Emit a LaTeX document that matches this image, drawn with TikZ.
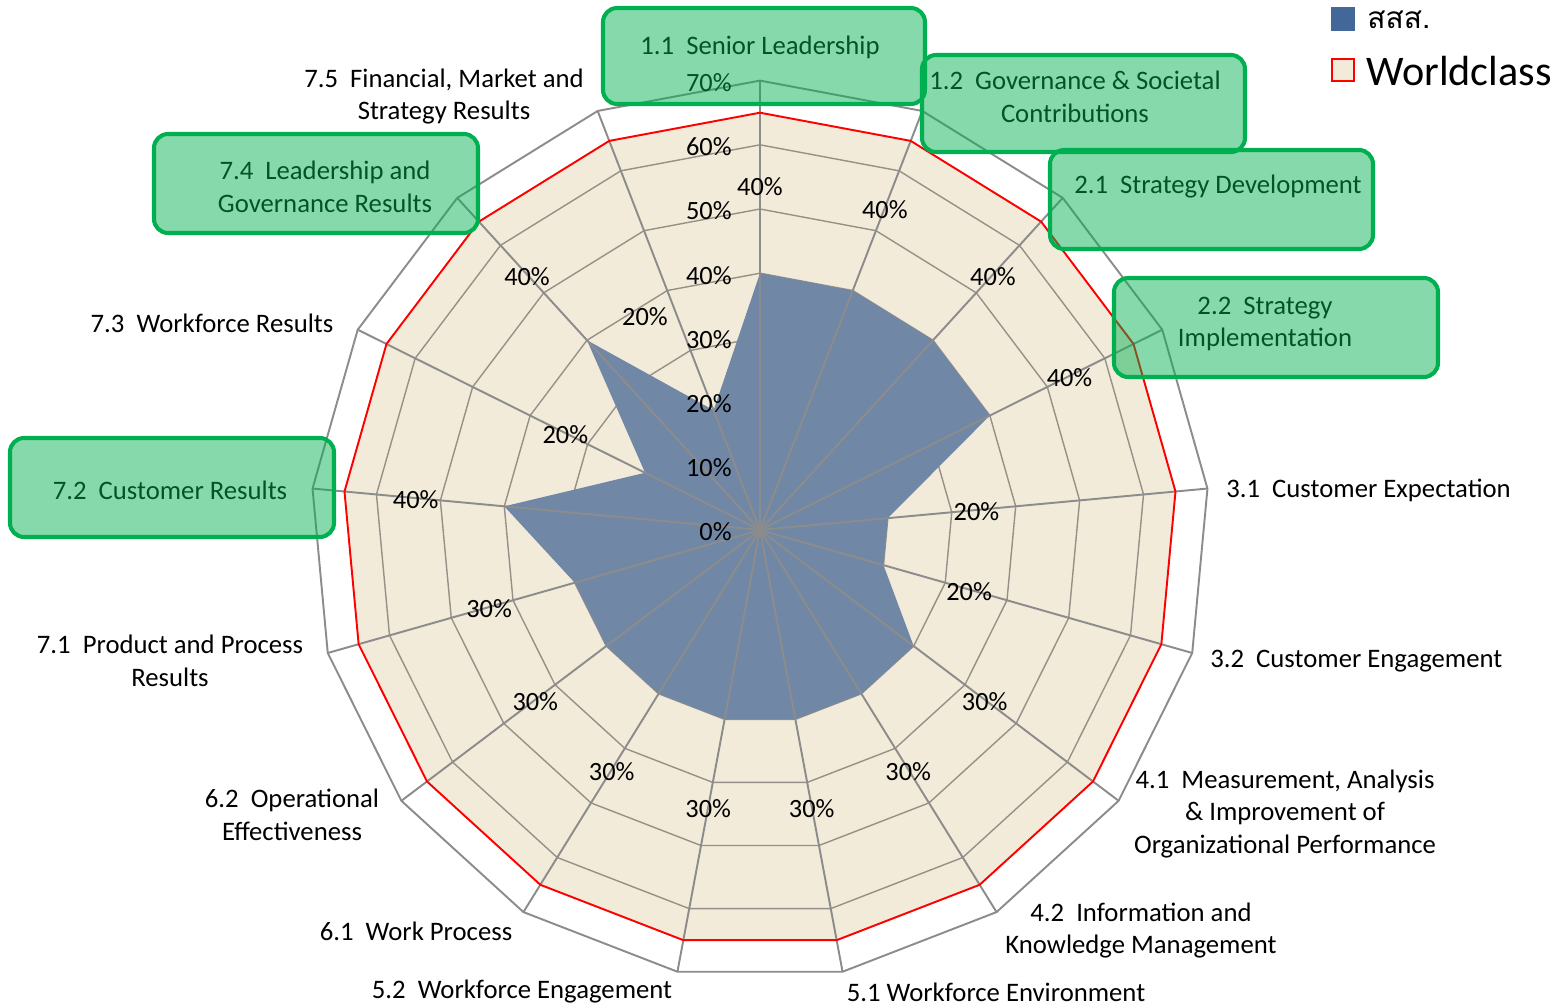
\documentclass[tikz,border=0pt]{standalone}
\usepackage{fontspec}
\setmainfont{Carlito}
\newfontfamily\thaifont[Script=Thai]{Loma}
\usepackage{xcolor}
\usetikzlibrary{calc}
\definecolor{Parchment}{HTML}{F3EBD9}
\definecolor{Slate}{HTML}{7088A6}
\definecolor{SlateKey}{HTML}{44679A}
\definecolor{GridGray}{HTML}{8C8C8C}
\definecolor{RingTan}{HTML}{969088}
\definecolor{Leaf}{HTML}{00B050}
\definecolor{WorldRed}{HTML}{FF0000}

\tikzset{
    axislabel/.style={font=\fontsize{15.2pt}{18.7pt}\selectfont,align=center,inner sep=0pt},
    pct/.style={font=\fontsize{15pt}{18pt}\selectfont,inner sep=0pt},
    hilite/.style={draw=Leaf,line width=2.3pt,fill=Leaf,fill opacity=0.48,rounded corners=8pt},
}

\begin{document}
\begin{tikzpicture}[x=0.02cm,y=0.02cm]
    \useasboundingbox (-760,-475) rectangle (806,530);
    \coordinate (O) at (0,0);

    \fill[Parchment] (90:417.3) \foreach \k in {1,...,16}{ -- ({90-\k*360/17}:417.3)} -- cycle;
    \foreach \r in {1,...,6}
        \draw[RingTan,line width=0.8pt] (90:{\r*64.2}) \foreach \k in {1,...,16}{ -- ({90-\k*360/17}:{\r*64.2})} -- cycle;

    \fill[Slate] (90:256.8) \foreach \v [count=\k] in {4,4,4,2,2,3,3,3,3,3,3,3,4,2,4,2}{ -- ({90-\k*360/17}:{\v*64.2})} -- cycle;

    \foreach \k in {0,...,16}
        \draw[GridGray,line width=1.1pt] (O) -- ({90-\k*360/17}:449.4);
    \draw[WorldRed,line width=1.1pt] (90:417.3) \foreach \k in {1,...,16}{ -- ({90-\k*360/17}:417.3)} -- cycle;
    \draw[GridGray,line width=1.1pt] (90:449.4) \foreach \k in {1,...,16}{ -- ({90-\k*360/17}:449.4)} -- cycle;

    \foreach \t/\txt in {0/0,1/10,2/20,3/30,4/40,5/50,6/60,7/70}
        \node[pct,anchor=east] (tick\t) at (-28,{\t*64.2-2}) {\txt\%};

    \foreach \v [count=\k from 0] in {4,4,4,4,2,2,3,3,3,3,3,3,3,4,2,4}
        \node[pct] (val\k) at ($({90-\k*360/17}:{\v*64.2+89})+(0,-2)$) {\v0\%};
    \node[pct] (val16) at (-115,213) {20\%};

    \node[axislabel] (cat11) at (0,483) {1.1\ \ Senior Leadership};
    \node[axislabel] (cat12) at (315,433.5) {1.2\ \ Governance \& Societal\\Contributions};
    \node[axislabel] (cat21) at (458,343) {2.1\ \ Strategy Development};
    \node[axislabel] (cat22) at (505,206) {2.2\ \ Strategy\\Implementation};
    \node[axislabel,anchor=west] (cat31) at (466,40) {3.1\ \ Customer Expectation};
    \node[axislabel,anchor=west] (cat32) at (450,-131) {3.2\ \ Customer Engagement};
    \node[axislabel] (cat41) at (525,-284) {4.1\ \ Measurement, Analysis\\\& Improvement of\\Organizational Performance};
    \node[axislabel] (cat42) at (381,-400.5) {4.2\ \ Information and\\Knowledge Management};
    \node[axislabel] (cat51) at (236,-462) {5.1 Workforce Environment};
    \node[axislabel] (cat52) at (-238,-462) {5.2\ \ Workforce Engagement};
    \node[axislabel] (cat61) at (-344,-401) {6.1\ \ Work Process};
    \node[axislabel] (cat62) at (-468,-284.5) {6.2\ \ Operational\\Effectiveness};
    \node[axislabel] (cat71) at (-590,-130.5) {7.1\ \ Product and Process\\Results};
    \node[axislabel] (cat72) at (-590,40) {7.2\ \ Customer Results};
    \node[axislabel] (cat73) at (-548,207) {7.3\ \ Workforce Results};
    \node[axislabel] (cat74) at (-435,343) {7.4\ \ Leadership and\\Governance Results};
    \node[axislabel] (cat75) at (-316,433.5) {7.5\ \ Financial, Market and\\Strategy Results};

    \draw[hilite] (-157,522) rectangle (165,426);
    \draw[hilite] (162,475) rectangle (485,378);
    \draw[hilite] (290,380) rectangle (613,281);
    \draw[hilite] (354,252) rectangle (678,153);
    \draw[hilite] (-606,396) rectangle (-282,297);
    \draw[hilite] (-750,92) rectangle (-426,-7);

    \fill[SlateKey] (571,499) rectangle (595,523);
    \node[anchor=west,inner sep=0pt,font=\thaifont\fontsize{17pt}{20pt}\selectfont] (keyA) at (607,510) {สสส.};
    \draw[WorldRed,line width=1.1pt,fill=Parchment] (572,449) rectangle (594,471);
    \node[anchor=west,inner sep=0pt,font=\fontsize{24pt}{28pt}\selectfont] (keyB) at (606,459) {Worldclass};
\end{tikzpicture}
\end{document}
